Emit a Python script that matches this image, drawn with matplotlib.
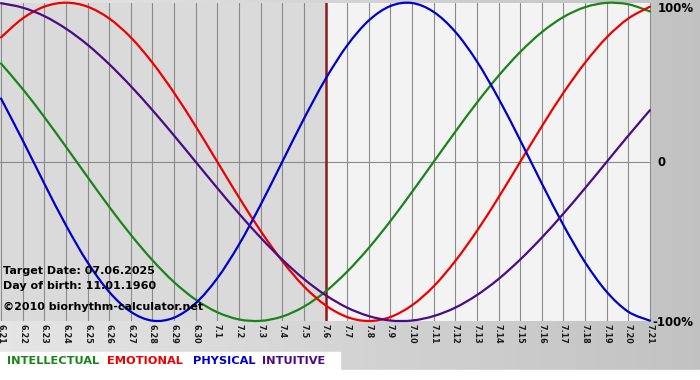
import matplotlib.pyplot as plt
from matplotlib.path import Path
from matplotlib.patches import PathPatch
import numpy as np

# day labels (month.day) and daily biorhythm values
days = ["6.21", "6.22", "6.23", "6.24", "6.25", "6.26", "6.27", "6.28", "6.29", "6.30",
        "7.1", "7.2", "7.3", "7.4", "7.5", "7.6", "7.7", "7.8", "7.9", "7.10",
        "7.11", "7.12", "7.13", "7.14", "7.15", "7.16", "7.17", "7.18", "7.19", "7.20", "7.21"]
target_idx = 15

intellectual = [0.618, 0.458, 0.282, 0.095, -0.095, -0.282, -0.458, -0.618, -0.756, -0.866,
                -0.945, -0.990, -0.999, -0.972, -0.910, -0.815, -0.690, -0.541, -0.372, -0.189,
                0.000, 0.189, 0.372, 0.541, 0.690, 0.815, 0.910, 0.972, 0.999, 0.990, 0.945]
emotional = [0.782, 0.901, 0.975, 1.000, 0.975, 0.901, 0.782, 0.623, 0.434, 0.223,
             0.000, -0.223, -0.434, -0.623, -0.782, -0.901, -0.975, -1.000, -0.975, -0.901,
             -0.782, -0.623, -0.434, -0.223, 0.000, 0.223, 0.434, 0.623, 0.782, 0.901, 0.975]
physical = [0.398, 0.136, -0.136, -0.398, -0.631, -0.817, -0.942, -0.998, -0.979, -0.888,
            -0.731, -0.520, -0.270, 0.000, 0.270, 0.520, 0.731, 0.888, 0.979, 0.998,
            0.942, 0.817, 0.631, 0.398, 0.136, -0.136, -0.398, -0.631, -0.817, -0.942, -0.998]
intuitive = [0.997, 0.969, 0.916, 0.837, 0.736, 0.614, 0.476, 0.325, 0.165, 0.000,
             -0.165, -0.325, -0.476, -0.614, -0.736, -0.837, -0.916, -0.969, -0.997, -0.997,
             -0.969, -0.916, -0.837, -0.736, -0.614, -0.476, -0.325, -0.165, 0.000, 0.165, 0.325]

series = [("INTELLECTUAL", intellectual, "#1a841a"),
          ("EMOTIONAL", emotional, "#ee0000"),
          ("PHYSICAL", physical, "#0000cc"),
          ("INTUITIVE", intuitive, "#4b0a86")]


def smooth_path(xs, ys):
    # catmull-rom style bezier through the daily points
    pts = np.column_stack([xs, ys]).astype(float)
    ext = np.vstack([pts[0], pts, pts[-1]])
    verts = [tuple(pts[0])]
    codes = [Path.MOVETO]
    for i in range(len(pts) - 1):
        p0, p1, p2, p3 = ext[i], ext[i + 1], ext[i + 2], ext[i + 3]
        c1 = p1 + (p2 - p0) / 6
        c2 = p2 - (p3 - p1) / 6
        verts += [tuple(c1), tuple(c2), tuple(p2)]
        codes += [Path.CURVE4] * 3
    return Path(verts, codes)


W, H = 700, 380
fig = plt.figure(figsize=(7, 3.8), dpi=100)

# page background: grey band with soft horizontal gradient, white strip below
bg = fig.add_axes([0, 0, 1, 1], zorder=-10)
grad = np.linspace(0.90, 0.76, 200)
img = np.tile(grad, (10, 1))
bg.imshow(np.dstack([img] * 3), extent=[0, W, 10, H], aspect="auto", origin="lower")
bg.add_patch(plt.Rectangle((0, 0), W, 10, color="white"))
bg.add_patch(plt.Rectangle((0, 10), 340, 18, color="white"))
bg.set_xlim(0, W)
bg.set_ylim(0, H)
bg.axis("off")

# main plot area (pixel geometry of the reference)
x = np.arange(len(days))
step = 21.63
left_px, right_px, top_px, bot_px = 0, 651, 2.7, 321
ax = fig.add_axes([left_px / W, (H - bot_px) / H, (right_px - left_px) / W, (bot_px - top_px) / H])
ax.set_xlim(-1 / step, 30 + 1 / step)
ax.set_ylim(-1, 1)
ax.axvspan(-1, target_idx, color="#dadada", zorder=0)
ax.axvspan(target_idx, 31, color="#f3f3f3", zorder=0)
for xi in x:
    ax.axvline(xi, color="#8a8a8a", lw=0.8, zorder=1)
ax.axhline(0, color="#8a8a8a", lw=0.8, zorder=1)

for name, vals, col in series:
    patch = PathPatch(smooth_path(x, vals), facecolor="none", edgecolor=col, lw=1.6,
                      zorder=3, clip_on=False, capstyle="round", joinstyle="round")
    ax.add_patch(patch)

ax.axvline(target_idx, color="#8c1c1c", lw=1.8, zorder=2)

ax.set_xticks([])
ax.set_yticks([])
for s in ax.spines.values():
    s.set_visible(False)

# rotated day labels under the plot
for xi, lab in zip(x, days):
    px = left_px + (xi + 1 / step) * step
    fig.text(px / W, (H - 324) / H, lab, rotation=270, ha="center", va="top",
             fontsize=5.8, fontweight="bold", color="#1a1a1a")

# right side scale labels
fig.text(658 / W, (H - 8) / H, "100%", ha="left", va="center", fontsize=8.5, fontweight="bold")
fig.text(657 / W, (H - 162) / H, "0", ha="left", va="center", fontsize=8.5, fontweight="bold")
fig.text(652 / W, (H - 322) / H, "-100%", ha="left", va="center", fontsize=8.5, fontweight="bold")

# info text
fig.text(3 / W, (H - 271) / H, "Target Date: 07.06.2025", ha="left", va="center", fontsize=8, fontweight="bold")
fig.text(3 / W, (H - 286) / H, "Day of birth: 11.01.1960", ha="left", va="center", fontsize=8, fontweight="bold")
fig.text(3 / W, (H - 307) / H, "\u00a92010 biorhythm-calculator.net", ha="left", va="center", fontsize=8, fontweight="bold")

# legend row
leg_x = [7, 107, 193, 262]
for (name, vals, col), lx in zip(series, leg_x):
    fig.text(lx / W, (H - 361) / H, name, ha="left", va="center", fontsize=8.2, fontweight="bold", color=col)

fig.savefig("out.png", dpi=100)
